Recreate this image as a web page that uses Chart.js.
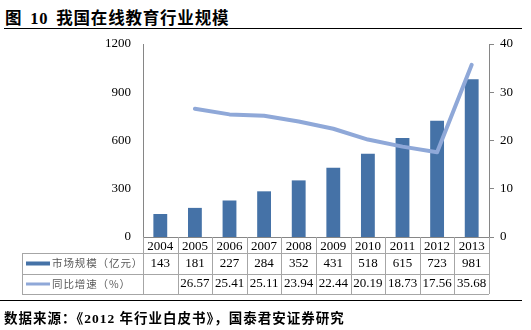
<!DOCTYPE html>
<html>
<head>
<meta charset="utf-8">
<script src="https://cdn.jsdelivr.net/npm/chart.js@4"></script>
<style>
    body { margin: 0; background: #fff; }
    #wrap { position: relative; width: 531px; height: 330px; overflow: hidden; }
    #title {
        position: absolute; left: 5px; top: 5px;
        font: bold 16.5px "Liberation Serif", "Noto Sans CJK SC", serif;
        letter-spacing: 0.8px; word-spacing: 3px;
        color: #000; white-space: pre;
    }
    #titleLine { position: absolute; left: 4px; top: 28px; width: 518px; border-top: 1.5px solid #000; }
    #sourceLine { position: absolute; left: 0; top: 300px; width: 522px; border-top: 1.5px solid #000; }
    #source {
        position: absolute; left: 4px; top: 307px;
        font: bold 13.5px "Liberation Serif", "Noto Sans CJK SC", serif;
        letter-spacing: 1px;
        color: #000; white-space: pre;
    }
    canvas { position: absolute; left: 0; top: 0; }
</style>
</head>
<body>
<div id="wrap">
    <div id="title">图 10 我国在线教育行业规模</div>
    <div id="titleLine"></div>
    <canvas id="chart" width="531" height="330"></canvas>
    <div id="sourceLine"></div>
    <div id="source">数据来源：《2012 年行业白皮书》，国泰君安证券研究</div>
</div>
<script>
// 数据
const years = ['2004', '2005', '2006', '2007', '2008', '2009', '2010', '2011', '2012', '2013'];
const marketSize = [143, 181, 227, 284, 352, 431, 518, 615, 723, 981];
const growthRate = [null, 26.57, 25.41, 25.11, 23.94, 22.44, 20.19, 18.73, 17.56, 35.68];
const seriesNames = ['市场规模（亿元）', '同比增速（%）'];

const barColor = '#4572A7';
const lineColor = '#8FA8D8';
const axisColor = '#868686';
const tableColor = '#A6A6A6';

// 数据表（画在x轴下方）
const dataTable = {
    id: 'dataTable',
    afterDraw(chart) {
        const ctx = chart.ctx;
        const x = chart.scales.x;
        const top = chart.chartArea.bottom;
        const row1 = top + 16;
        const row2 = row1 + 21;
        const bottom = x.bottom;
        const left = 22;
        const half = x.width / years.length / 2;

        ctx.save();
        ctx.strokeStyle = tableColor;
        ctx.lineWidth = 1;
        ctx.beginPath();
        [row1, row2, bottom].forEach(y => {
            ctx.moveTo(left, Math.round(y) + 0.5);
            ctx.lineTo(x.right, Math.round(y) + 0.5);
        });
        years.forEach((y, i) => {
            const px = Math.round(x.getPixelForValue(i) - half) + 0.5;
            ctx.moveTo(px, top);
            ctx.lineTo(px, bottom);
        });
        ctx.moveTo(Math.round(x.right) + 0.5, top);
        ctx.lineTo(Math.round(x.right) + 0.5, bottom);
        ctx.moveTo(left + 0.5, row1);
        ctx.lineTo(left + 0.5, bottom);
        ctx.stroke();

        // 图例
        const mid1 = (row1 + row2) / 2;
        const mid2 = (row2 + bottom) / 2;
        ctx.fillStyle = barColor;
        ctx.fillRect(26, mid1 - 2, 24, 4);
        ctx.fillStyle = lineColor;
        ctx.fillRect(26, mid2 - 1.5, 24, 3);

        ctx.fillStyle = '#595959';
        ctx.font = '10.5px "Noto Sans CJK SC"';
        ctx.letterSpacing = '0.9px';
        ctx.textAlign = 'left';
        ctx.textBaseline = 'middle';
        ctx.fillText(seriesNames[0], 52, mid1);
        ctx.fillText(seriesNames[1], 52, mid2);
        ctx.letterSpacing = '0px';

        // 数值
        ctx.fillStyle = '#000';
        ctx.font = '13px "Liberation Serif"';
        ctx.textAlign = 'center';
        years.forEach((y, i) => {
            const px = x.getPixelForValue(i);
            ctx.fillText(String(marketSize[i]), px, mid1);
            if (growthRate[i] !== null) {
                ctx.fillText(growthRate[i].toFixed(2), px, mid2);
            }
        });
        ctx.restore();
    }
};

const tickFont = { family: '"Liberation Serif"', size: 13 };

new Chart(document.getElementById('chart').getContext('2d'), {
    data: {
        labels: years,
        datasets: [{
            type: 'line',
            label: seriesNames[1],
            data: growthRate,
            yAxisID: 'y1',
            borderColor: lineColor,
            borderWidth: 4,
            borderJoinStyle: 'round',
            borderCapStyle: 'round',
            pointRadius: 0,
            tension: 0,
            order: 0
        }, {
            type: 'bar',
            label: seriesNames[0],
            data: marketSize,
            yAxisID: 'y',
            backgroundColor: barColor,
            categoryPercentage: 1,
            barPercentage: 0.4,
            order: 1
        }]
    },
    options: {
        responsive: false,
        animation: false,
        layout: { padding: { top: 44, bottom: 36, left: 0, right: 0 } },
        plugins: {
            legend: { display: false },
            tooltip: { enabled: false }
        },
        scales: {
            x: {
                grid: { display: false, drawTicks: false },
                border: { display: true, color: axisColor },
                ticks: { color: '#000', font: tickFont, padding: 2, maxRotation: 0, autoSkip: false },
                afterFit(scale) { scale.height = 57; }
            },
            y: {
                position: 'left',
                min: 0,
                max: 1200,
                grid: { display: false, drawTicks: false },
                border: { display: true, color: axisColor },
                ticks: { stepSize: 300, color: '#000', font: tickFont, padding: 12, callback: v => String(v) },
                afterFit(scale) { scale.width = 143; }
            },
            y1: {
                position: 'right',
                min: 0,
                max: 40,
                grid: { display: true, drawOnChartArea: false, drawTicks: true, tickLength: 5, color: axisColor },
                border: { display: true, color: axisColor },
                ticks: { stepSize: 10, color: '#000', font: tickFont, padding: 6, callback: v => String(v) },
                afterFit(scale) { scale.width = 42; }
            }
        }
    },
    plugins: [dataTable]
});
</script>
</body>
</html>
